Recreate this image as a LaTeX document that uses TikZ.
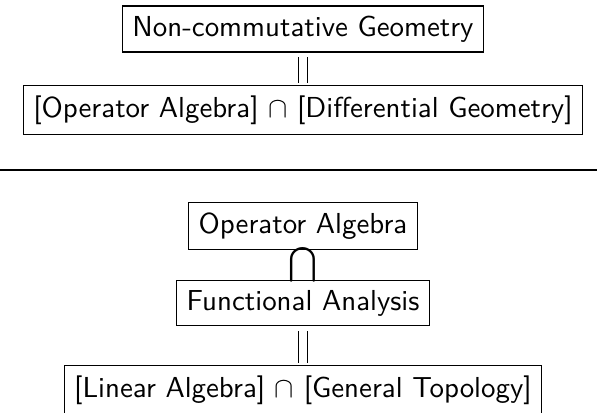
\documentclass[tikz,border=0pt]{standalone}
\usepackage{amsmath, amssymb}
\usepackage{tikz}
\usetikzlibrary{calc}

\begin{document}
\begin{tikzpicture}[x=0.346pt, y=-0.346pt, font=\sffamily,
    field/.style={draw, line width=0.4pt, inner sep=3.4pt},
    equal/.style={double, double distance=2.6pt, line width=0.5pt,
                  shorten <=1.6pt, shorten >=0.8pt}]

      % Internal geometry (pixel grid of the page)
      \def\W{597}       % page width
      \def\Hgt{412}     % page height
      \def\cx{303}      % common centre line

      % fix the page
      \useasboundingbox (0,0) rectangle (\W,\Hgt);

      % Upper part: definition
      \node[field] (ncg)   at (\cx,29)  {Non-commutative Geometry};
      \node[field] (inter) at (\cx,110) {[Operator Algebra] $\cap$ [Differential Geometry]};

      % equality between the two boxes
      \draw[equal] (ncg) -- (inter);

      % separating rule across the page
      \coordinate (L) at (0,170);
      \coordinate (R) at (\W,170);
      \draw[line width=0.5pt] (L) -- (R);

      % Lower part: inclusion chain
      \node[field] (opalg) at (\cx,226) {Operator Algebra};
      \node[field] (fa)    at (\cx,303) {Functional Analysis};
      \node[field] (lagt)  at (\cx,390) {[Linear Algebra] $\cap$ [General Topology]};

      % inclusion sign between the first two boxes (a little larger)
      \node[inner sep=0pt, font=\large] (sub) at ($(opalg.south)!0.5!(fa.north)$) {$\bigcap$};

      % equality between the last two boxes
      \draw[equal] (fa) -- (lagt);

    \end{tikzpicture}
\end{document}
